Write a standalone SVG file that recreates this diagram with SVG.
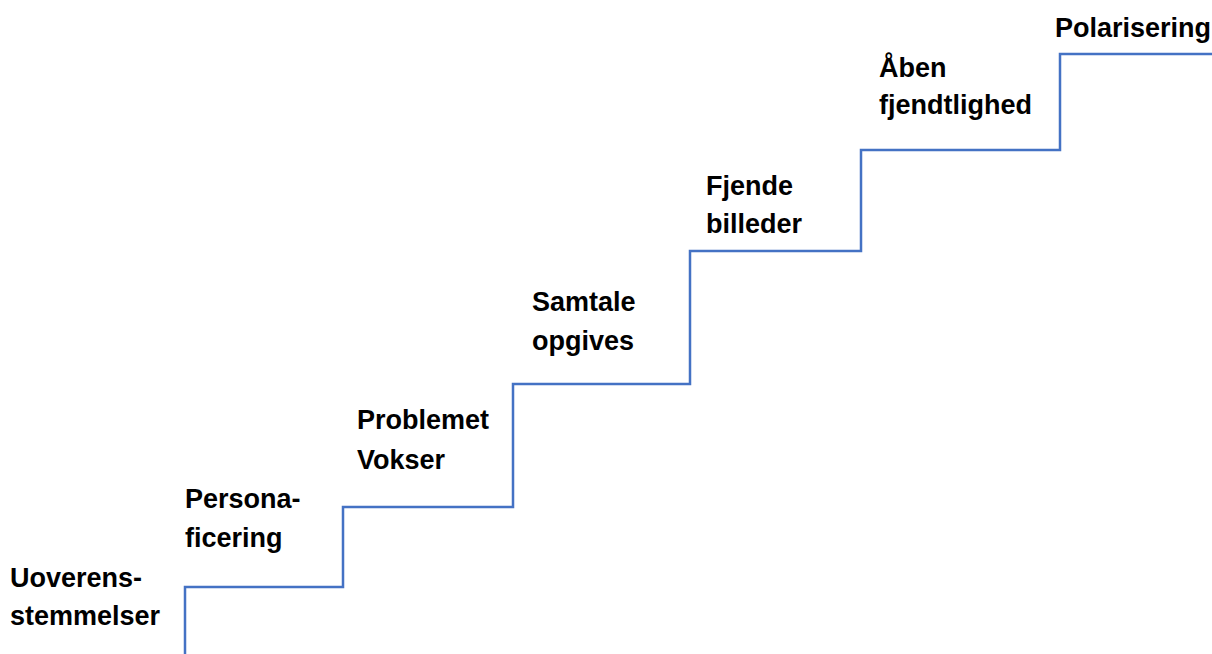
<svg xmlns="http://www.w3.org/2000/svg" width="1212" height="654" viewBox="0 0 1212 654">
<style>
.lbl{font-family:"Liberation Sans",Arial,sans-serif;font-weight:bold;font-size:27px;fill:#000}
.stair{fill:none;stroke:#4472C4;stroke-width:2.5;stroke-linejoin:miter}
</style>
<rect width="1212" height="654" fill="#fff"/>
<g id="connectors">
<path class="stair" d="M185,654 V587 H343 V507 H513 V384 H690 V251 H861 V150 H1060 V54 H1212"/>
</g>
<g id="n1"><text class="lbl" x="10" y="587">Uoverens-</text><text class="lbl" x="10" y="625">stemmelser</text></g>
<g id="n2"><text class="lbl" x="185" y="508">Persona-</text><text class="lbl" x="185" y="547">ficering</text></g>
<g id="n3"><text class="lbl" x="357" y="429">Problemet</text><text class="lbl" x="357" y="469">Vokser</text></g>
<g id="n4"><text class="lbl" x="532" y="311">Samtale</text><text class="lbl" x="532" y="350">opgives</text></g>
<g id="n5"><text class="lbl" x="706" y="195">Fjende</text><text class="lbl" x="706" y="233">billeder</text></g>
<g id="n6"><text class="lbl" x="879" y="77">Åben</text><text class="lbl" x="879" y="114">fjendtlighed</text></g>
<g id="n7"><text class="lbl" x="1055" y="37">Polarisering</text></g>
</svg>
